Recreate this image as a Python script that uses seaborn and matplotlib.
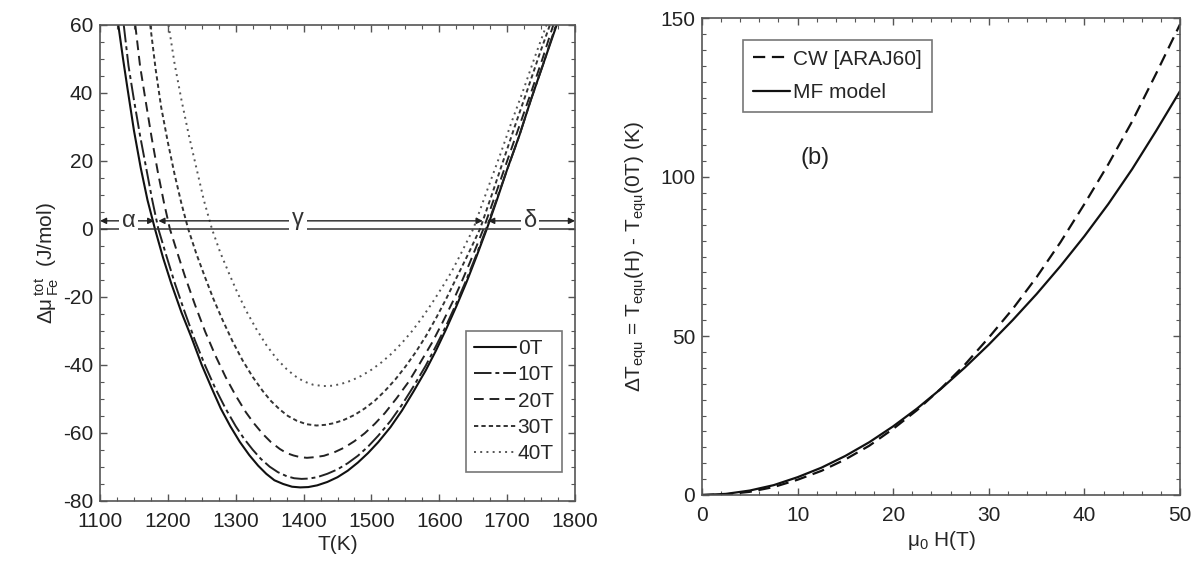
import numpy as np
import pandas as pd
import matplotlib
matplotlib.use("Agg")
import matplotlib.pyplot as plt
import seaborn as sns
from matplotlib.ticker import MultipleLocator

# ---------------- data ----------------
T_0T = [1127, 1134, 1140, 1150, 1160, 1170, 1181, 1193, 1205, 1220, 1235, 1250, 1265, 1278, 1292, 1306, 1320, 1333, 1345, 1357, 1370, 1383, 1395, 1407, 1420, 1435, 1450, 1465, 1480, 1495, 1510, 1528, 1545, 1562, 1580, 1595, 1610, 1625, 1640, 1655, 1670, 1685, 1700, 1718, 1735, 1754, 1773]
mu_0T = [60, 50, 42, 29, 18, 8.5, 0, -8.5, -16, -24.5, -32, -40, -47, -52.8, -58, -62.6, -66.5, -69.6, -72, -73.9, -75, -75.8, -76, -75.9, -75.4, -74.4, -73, -71.1, -68.7, -65.9, -62.7, -58.3, -53.4, -47.8, -41.6, -35.8, -29.5, -22.8, -15.7, -8, 0, 8.6, 17.5, 27.5, 38, 49, 60]

T_10T = [1135, 1142, 1150, 1159, 1168, 1177, 1186, 1198, 1210, 1225, 1240, 1255, 1270, 1285, 1300, 1312, 1325, 1337, 1350, 1362, 1375, 1386, 1397, 1408, 1420, 1435, 1450, 1465, 1480, 1495, 1510, 1528, 1545, 1562, 1580, 1595, 1610, 1625, 1640, 1655, 1669, 1685, 1700, 1718, 1735, 1754, 1772]
mu_10T = [60, 48, 38, 27.5, 18, 8.5, 0, -8, -15.8, -24.5, -32.8, -40.2, -46.9, -52.8, -58, -61.6, -64.9, -67.6, -69.9, -71.5, -72.7, -73.3, -73.5, -73.4, -73, -72, -70.7, -68.9, -66.7, -64, -60.8, -56.5, -51.7, -46.3, -40.2, -34.5, -28.5, -21.9, -14.9, -7.4, 0, 9, 17.5, 27.5, 38, 49, 60]

T_20T = [1152, 1159, 1167, 1176, 1185, 1194, 1203, 1214, 1225, 1240, 1255, 1270, 1285, 1300, 1315, 1327, 1340, 1352, 1365, 1375, 1385, 1395, 1405, 1417, 1430, 1445, 1460, 1475, 1490, 1505, 1520, 1537, 1555, 1572, 1590, 1605, 1620, 1633, 1645, 1655, 1665, 1683, 1700, 1718, 1735, 1752, 1768]
mu_20T = [60, 48, 38, 27, 17, 8, 0, -7, -13.8, -22.3, -30.2, -37.2, -43.5, -49, -53.9, -57.2, -60.3, -62.7, -64.7, -65.9, -66.6, -67.1, -67.3, -67.1, -66.7, -65.7, -64.3, -62.4, -60.1, -57.3, -54.1, -49.8, -44.9, -39.3, -33.2, -27.4, -21.3, -15.5, -9.9, -5, 0, 10.2, 20, 30.3, 40, 50, 60]

T_30T = [1174, 1182, 1190, 1200, 1210, 1220, 1230, 1242, 1255, 1267, 1280, 1295, 1310, 1325, 1340, 1352, 1365, 1377, 1390, 1404, 1419, 1432, 1445, 1460, 1475, 1490, 1505, 1520, 1535, 1550, 1565, 1580, 1595, 1610, 1625, 1643, 1660, 1678, 1695, 1712, 1730, 1747, 1763]
mu_30T = [60, 47, 36, 25.5, 16, 7.5, 0, -7.3, -14.3, -20.5, -26.5, -32.9, -38.6, -43.5, -47.7, -50.6, -53.1, -55, -56.4, -57.4, -57.8, -57.6, -57.1, -56.1, -54.7, -52.8, -50.5, -47.6, -44.3, -40.5, -36.3, -31.6, -26.3, -20.6, -14.5, -7.2, 0, 10.4, 20.5, 30.6, 41, 51, 60]

T_40T = [1201, 1210, 1220, 1231, 1242, 1253, 1265, 1277, 1290, 1302, 1315, 1330, 1345, 1360, 1375, 1387, 1400, 1414, 1429, 1442, 1455, 1470, 1485, 1500, 1515, 1530, 1545, 1560, 1575, 1590, 1605, 1618, 1630, 1640, 1650, 1670, 1690, 1707, 1725, 1741, 1758]
mu_40T = [60, 48.5, 38, 27.5, 18, 8.5, 0, -6.8, -13, -18.5, -23.9, -29.3, -34.1, -38.1, -41.2, -43.2, -44.8, -45.8, -46.2, -46.1, -45.6, -44.6, -43.2, -41.4, -39.2, -36.6, -33.5, -30, -26, -21.6, -16.9, -12.6, -8, -4, 0, 11.1, 22, 31.7, 41.5, 50.7, 60]

H = [0, 2.5, 5, 7.5, 10, 12.5, 15, 17.5, 20, 22.5, 25, 27.5, 30, 32.5, 35, 37.5, 40, 42.5, 45, 47.5, 50]
dT_CW = [0, 0.2, 1.0, 2.5, 4.8, 7.6, 11.2, 15.5, 20.8, 26.7, 33.5, 41, 49.5, 58.5, 68.5, 79.5, 91.5, 104, 117.5, 132.5, 148]
dT_MF = [0, 0.35, 1.4, 3.1, 5.6, 8.6, 12.3, 16.6, 21.6, 27.2, 33.4, 40.1, 47.3, 55, 63.2, 72, 81.4, 91.5, 102.5, 114.5, 127]

left_labels = ["0T", "10T", "20T", "30T", "40T"]
right_labels = ["CW [ARAJ60]", "MF model"]

# ---------------- style ----------------
sns.set_theme(style="ticks")
plt.rcParams["font.family"] = ["Liberation Sans", "DejaVu Sans"]
plt.rcParams["mathtext.fontset"] = "custom"
plt.rcParams["mathtext.rm"] = "Liberation Sans"
plt.rcParams["mathtext.it"] = "Liberation Sans"
plt.rcParams["mathtext.bf"] = "Liberation Sans:bold"
plt.rcParams["mathtext.sf"] = "Liberation Sans"
plt.rcParams["axes.unicode_minus"] = False

fig = plt.figure(figsize=(12.02, 5.70), dpi=100)
ax1 = fig.add_axes([100/1202, 1 - 501/570, 475/1202, 476/570])
ax2 = fig.add_axes([702/1202, 1 - 495/570, 478/1202, 477/570])

spine_col = "#555555"
fs = 15

def style_axes(ax):
    for s in ax.spines.values():
        s.set_visible(True)
        s.set_color(spine_col)
        s.set_linewidth(1.2)
    ax.tick_params(which="both", direction="in", top=True, right=True,
                   color=spine_col, labelsize=fs, labelcolor="#222222")
    ax.tick_params(which="major", length=5, width=1)
    ax.tick_params(which="minor", length=3, width=0.8)
    ax.tick_params(axis="x", which="major", pad=8)
    ax.tick_params(axis="y", which="major", pad=5)

# ---------------- left panel ----------------
series = [(T_0T, mu_0T), (T_10T, mu_10T), (T_20T, mu_20T), (T_30T, mu_30T), (T_40T, mu_40T)]
styles = [dict(linestyle="-", lw=1.5, color="#111111"),
          dict(linestyle=(0, (9, 2, 2, 2)), lw=1.4, color="#222222"),
          dict(linestyle=(0, (5, 3)), lw=1.4, color="#222222"),
          dict(linestyle=(0, (2.2, 1.6)), lw=1.4, color="#333333"),
          dict(linestyle=(0, (1, 2.2)), lw=1.4, color="#555555")]
for (tx, my), lab, st in zip(series, left_labels, styles):
    sns.lineplot(x=tx, y=my, ax=ax1, label=lab, sort=False, **st)

ax1.axhline(0, color="#333333", lw=1.1)
ax1.set_xlim(1100, 1800)
ax1.set_ylim(-80, 60)
ax1.xaxis.set_major_locator(MultipleLocator(100))
ax1.xaxis.set_minor_locator(MultipleLocator(25))
ax1.yaxis.set_major_locator(MultipleLocator(20))
ax1.yaxis.set_minor_locator(MultipleLocator(5))
style_axes(ax1)
ax1.set_xlabel("T(K)", fontsize=fs, labelpad=3)
ax1.set_ylabel(r"$\Delta\mu^{\,\mathrm{tot}}_{\,\mathrm{Fe}}$  (J/mol)", fontsize=fs, labelpad=2)

# phase-region arrows
yarr = 2.4
aprops = dict(arrowstyle="<|-|>", color="#222222", lw=1.0, mutation_scale=9, shrinkA=0, shrinkB=0)
for x0, x1, xl, txt in [(1100, 1180, 1142, r"$\alpha$"), (1186, 1664, 1392, r"$\gamma$"), (1672, 1800, 1734, r"$\delta$")]:
    ax1.annotate("", xy=(x0, yarr), xytext=(x1, yarr), arrowprops=aprops, annotation_clip=False)
    ax1.text(xl, yarr, txt, ha="center", va="center", fontsize=17,
             color="#333333", family="DejaVu Serif",
             bbox=dict(facecolor="white", edgecolor="none", pad=1.5))

leg1 = ax1.legend(loc="lower right", fontsize=fs, frameon=True, fancybox=False,
                  edgecolor=spine_col, handlelength=2.0, handletextpad=0.1,
                  labelspacing=0.35, borderpad=0.4, bbox_to_anchor=(0.995, 0.04))
leg1.get_frame().set_linewidth(1.2)

# ---------------- right panel ----------------
sns.lineplot(x=H, y=dT_CW, ax=ax2, label=right_labels[0], color="#111111", lw=1.6, linestyle=(0, (5.5, 3)))
sns.lineplot(x=H, y=dT_MF, ax=ax2, label=right_labels[1], color="#111111", lw=1.6, linestyle="-")
ax2.set_xlim(0, 50)
ax2.set_ylim(0, 150)
ax2.xaxis.set_major_locator(MultipleLocator(10))
ax2.xaxis.set_minor_locator(MultipleLocator(2))
ax2.yaxis.set_major_locator(MultipleLocator(50))
ax2.yaxis.set_minor_locator(MultipleLocator(5))
style_axes(ax2)
ax2.set_xlabel(r"$\mu_0$ H(T)", fontsize=fs, labelpad=3)
ax2.set_ylabel(r"$\Delta T_{equ}$ = $T_{equ}$(H) - $T_{equ}$(0T) (K)", fontsize=fs, labelpad=8)
ax2.text(11.8, 106, "(b)", fontsize=fs + 2, ha="center", va="center", color="#222222")
leg2 = ax2.legend(loc="upper left", fontsize=fs, frameon=True, fancybox=False,
                  edgecolor=spine_col, handlelength=1.8, handletextpad=0.15,
                  labelspacing=0.7, borderpad=0.45, bbox_to_anchor=(0.065, 0.975))
leg2.get_frame().set_linewidth(1.2)

fig.savefig("out.png", dpi=100, facecolor="white")
